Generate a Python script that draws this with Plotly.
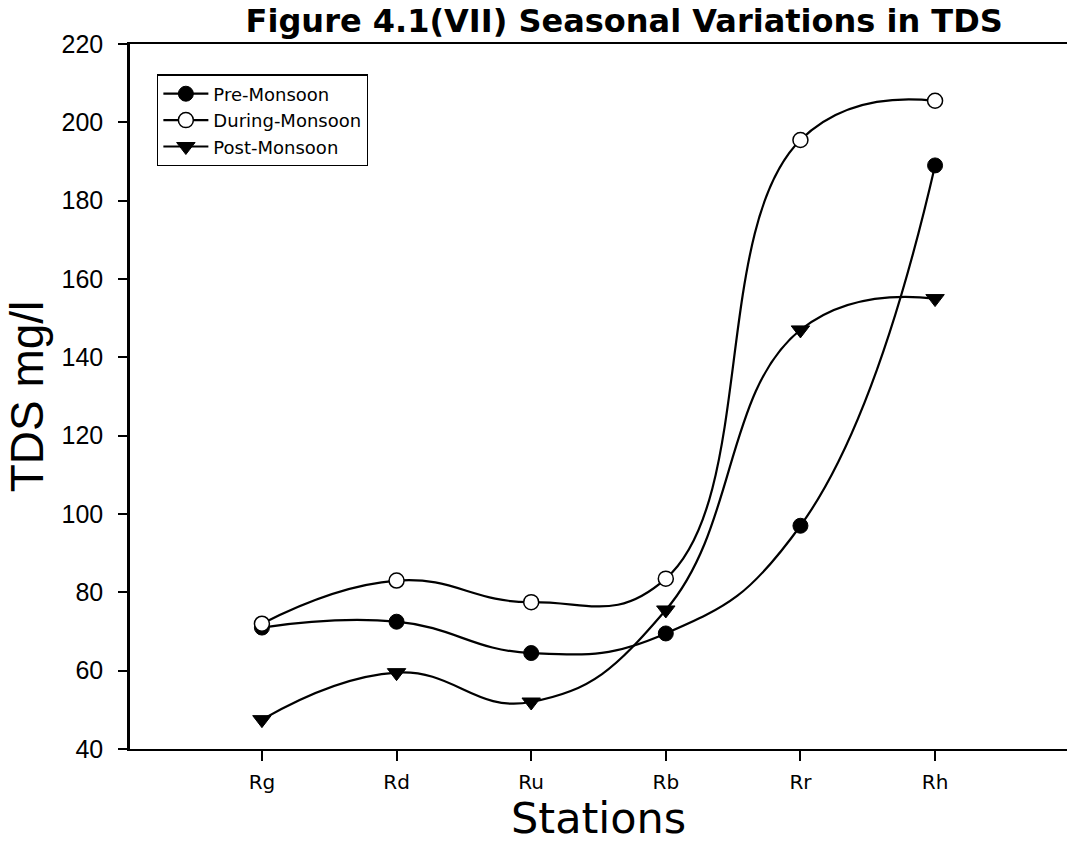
import plotly.graph_objects as go

# Sampling stations along the river
stations = ["Rg", "Rd", "Ru", "Rb", "Rr", "Rh"]

# Total dissolved solids (mg/l) per season
pre_monsoon = [71, 72.5, 64.5, 69.5, 97, 189]
during_monsoon = [72, 83, 77.5, 83.5, 195.5, 205.5]
post_monsoon = [47.5, 59.5, 52, 75.5, 147, 155]

y_ticks = [40, 60, 80, 100, 120, 140, 160, 180, 200, 220]

fig = go.Figure()

line_style = dict(color="black", width=2.2, shape="spline", smoothing=1.3)

fig.add_trace(go.Scatter(
    x=stations, y=pre_monsoon, name="Pre-Monsoon", mode="lines+markers",
    line=line_style,
    marker=dict(symbol="circle", size=15, color="black",
                line=dict(color="black", width=1)),
))
fig.add_trace(go.Scatter(
    x=stations, y=during_monsoon, name="During-Monsoon", mode="lines+markers",
    line=line_style,
    marker=dict(symbol="circle", size=15, color="white",
                line=dict(color="black", width=1.5)),
))
fig.add_trace(go.Scatter(
    x=stations, y=post_monsoon, name="Post-Monsoon", mode="lines+markers",
    line=line_style,
    marker=dict(symbol="triangle-down", size=16, color="black",
                line=dict(color="black", width=1)),
))

# x-axis title placed as an annotation so it sits at the bottom edge
fig.add_annotation(
    text="Stations", xref="paper", yref="paper",
    x=0.4995, y=-0.135, xanchor="center", yanchor="bottom",
    showarrow=False, borderpad=0,
    font=dict(family="DejaVu Sans", size=43, color="black"),
)

fig.update_layout(
    width=1067, height=845,
    margin=dict(l=130, r=0, t=44, b=96),
    paper_bgcolor="white", plot_bgcolor="white",
    title=dict(
        text="<b>Figure 4.1(VII) Seasonal Variations in TDS</b>",
        font=dict(family="DejaVu Sans", size=32, color="black"),
        x=0.585, xanchor="center", y=0.975, yanchor="middle",
    ),
    showlegend=True,
    legend=dict(
        x=0.029, y=0.957, xanchor="left", yanchor="top",
        bgcolor="white", bordercolor="black", borderwidth=1.2,
        font=dict(family="DejaVu Sans", size=18, color="black"),
        itemwidth=45, tracegroupgap=0,
    ),
    xaxis=dict(
        type="category", categoryorder="array", categoryarray=stations,
        range=[-0.98, 5.98],
        showline=True, linecolor="black", linewidth=2, mirror=True,
        showgrid=False, zeroline=False,
        ticks="outside", ticklen=10, tickwidth=1.5, tickcolor="black",
        ticklabelstandoff=4,
        tickfont=dict(family="DejaVu Sans", size=20, color="black"),
    ),
    yaxis=dict(
        range=[40, 220], tickvals=y_ticks,
        showline=True, linecolor="black", linewidth=2.5,
        showgrid=False, zeroline=False,
        ticks="outside", ticklen=9, tickwidth=1.5, tickcolor="black",
        ticklabelstandoff=10,
        tickfont=dict(family="Liberation Sans", size=25, color="black"),
        title=dict(text="TDS mg/l", standoff=4,
                   font=dict(family="Liberation Sans", size=46, color="black")),
    ),
)

fig.write_html("out.html")
